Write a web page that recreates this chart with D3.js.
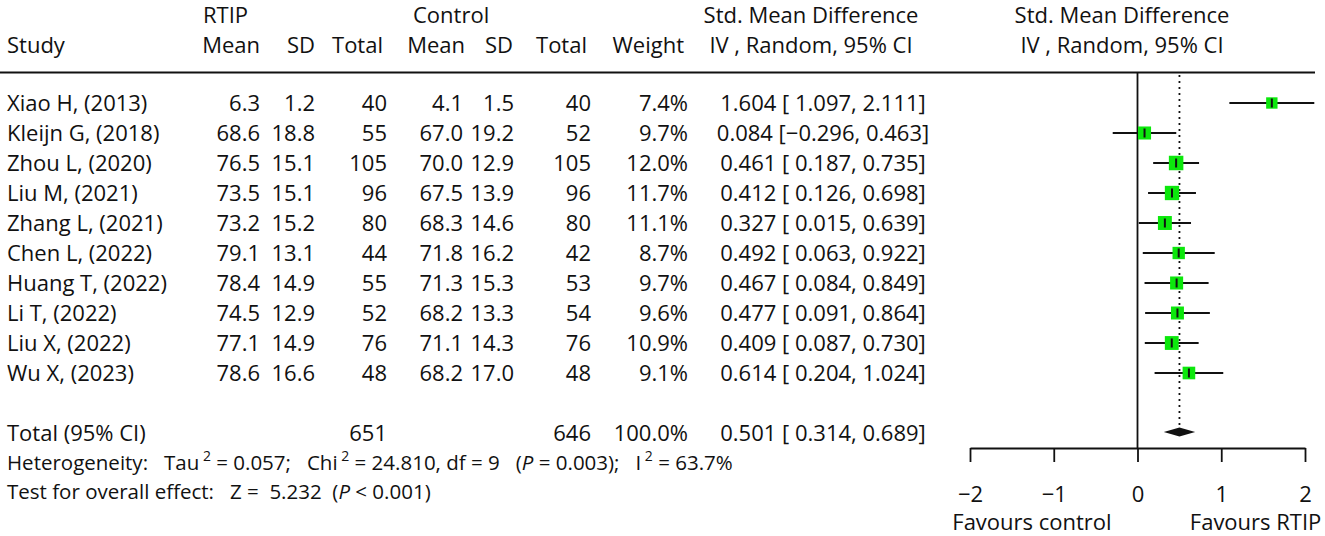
<!DOCTYPE html>
<html>
<head>
<meta charset="utf-8">
<script src="https://cdn.jsdelivr.net/npm/d3@7"></script>
<style>
	html, body { margin: 0; padding: 0; background: #fff; }
	svg text { font-family: "Open Sans", sans-serif; fill: #111; white-space: pre; }
</style>
</head>
<body>
<div id="forest"></div>
<script>

var studies = ["Xiao H, (2013)", "Kleijn G, (2018)", "Zhou L, (2020)", "Liu M, (2021)", "Zhang L, (2021)",
	"Chen L, (2022)", "Huang T, (2022)", "Li T, (2022)", "Liu X, (2022)", "Wu X, (2023)"];
var rtipMean = [6.3, 68.6, 76.5, 73.5, 73.2, 79.1, 78.4, 74.5, 77.1, 78.6];
var rtipSd = [1.2, 18.8, 15.1, 15.1, 15.2, 13.1, 14.9, 12.9, 14.9, 16.6];
var rtipTotal = [40, 55, 105, 96, 80, 44, 55, 52, 76, 48];
var ctrlMean = [4.1, 67.0, 70.0, 67.5, 68.3, 71.8, 71.3, 68.2, 71.1, 68.2];
var ctrlSd = [1.5, 19.2, 12.9, 13.9, 14.6, 16.2, 15.3, 13.3, 14.3, 17.0];
var ctrlTotal = [40, 52, 105, 96, 80, 42, 53, 54, 76, 48];
var weights = [7.4, 9.7, 12.0, 11.7, 11.1, 8.7, 9.7, 9.6, 10.9, 9.1];
var smd = [1.604, 0.084, 0.461, 0.412, 0.327, 0.492, 0.467, 0.477, 0.409, 0.614];
var lower = [1.097, -0.296, 0.187, 0.126, 0.015, 0.063, 0.084, 0.091, 0.087, 0.204];
var upper = [2.111, 0.463, 0.735, 0.698, 0.639, 0.922, 0.849, 0.864, 0.730, 1.024];
var pooled = [0.501, 0.314, 0.689];   // estimate, lower, upper
var groupTotals = [651, 646, 100.0];  // RTIP, control, weight %
var xTicks = [-2, -1, 0, 1, 2];


var width = 1325, height = 536,
	fontSize = 22, noteSize = 20.5, supSize = 14;

var svg = d3.select("#forest")
	.append("svg")
		.attr("width", width)
		.attr("height", height);

var xScale = d3.scaleLinear().domain([-2, 2]).range([970, 1305]);
var yRow = d3.scaleLinear().domain([0, 11]).range([103, 433]);
var boxSize = d3.scaleSqrt().domain([0, 12]).range([0, 14.5]);

var fmt1 = d3.format(".1f"), fmt3 = d3.format(".3f");
var minus = function(s) { return s.replace("-", "\u2212"); };

function ciText(est, lo, hi) {
	return fmt3(est) + " [" + (lo < 0 ? "" : " ") + minus(fmt3(lo)) + ", " + minus(fmt3(hi)) + "]";
}


// column headers
var headers = [
	{text: "Mean", x: 260}, {text: "SD", x: 315}, {text: "Total", x: 383},
	{text: "Mean", x: 465}, {text: "SD", x: 513}, {text: "Total", x: 587}, {text: "Weight", x: 684}
];
var dataCols = [260, 315, 387, 463, 514, 591, 688];

svg.append("text").attr("x", 203).attr("y", 23).attr("font-size", fontSize).text("RTIP");
svg.append("text").attr("x", 413).attr("y", 23).attr("font-size", fontSize).text("Control");
svg.append("text").attr("x", 7).attr("y", 53).attr("font-size", fontSize).text("Study");

svg.append("g")
	.selectAll("text")
	.data(headers)
	.enter().append("text")
		.attr("x", function(d) { return d.x; })
		.attr("y", 53)
		.attr("font-size", fontSize)
		.attr("text-anchor", "end")
		.text(function(d) { return d.text; });

[811, 1122].forEach(function(cx) {
	svg.append("text").attr("x", cx).attr("y", 23).attr("font-size", fontSize)
		.attr("text-anchor", "middle").text("Std. Mean Difference");
	svg.append("text").attr("x", cx).attr("y", 53).attr("font-size", fontSize)
		.attr("text-anchor", "middle").text("IV , Random, 95% CI");
});

svg.append("line")
	.attr("x1", 0).attr("x2", xScale(2) + 10)
	.attr("y1", 72.5).attr("y2", 72.5)
	.attr("stroke", "#111").attr("stroke-width", 1.8);


// study rows
var rows = studies.map(function(s, i) {
	return {
		study: s,
		cells: [fmt1(rtipMean[i]), fmt1(rtipSd[i]), rtipTotal[i], fmt1(ctrlMean[i]), fmt1(ctrlSd[i]), ctrlTotal[i], fmt1(weights[i]) + "%"],
		ci: ciText(smd[i], lower[i], upper[i]),
		i: i
	};
});

var row = svg.append("g")
	.selectAll("g")
	.data(rows)
	.enter().append("g")
		.attr("transform", function(d) { return "translate(0," + (yRow(d.i) + 8) + ")"; })
		.attr("font-size", fontSize);

row.append("text").attr("x", 7).text(function(d) { return d.study; });

row.selectAll("text.cell")
	.data(function(d) { return d.cells; })
	.enter().append("text")
		.attr("class", "cell")
		.attr("x", function(d, j) { return dataCols[j]; })
		.attr("text-anchor", "end")
		.text(function(d) { return d; });

row.append("text")
	.attr("x", 823)
	.attr("text-anchor", "middle")
	.text(function(d) { return d.ci; });


// total row
var totalY = yRow(11) + 8;
svg.append("text").attr("x", 7).attr("y", totalY).attr("font-size", fontSize).text("Total (95% CI)");
svg.append("text").attr("x", dataCols[2]).attr("y", totalY).attr("font-size", fontSize)
	.attr("text-anchor", "end").text(groupTotals[0]);
svg.append("text").attr("x", dataCols[5]).attr("y", totalY).attr("font-size", fontSize)
	.attr("text-anchor", "end").text(groupTotals[1]);
svg.append("text").attr("x", dataCols[6]).attr("y", totalY).attr("font-size", fontSize)
	.attr("text-anchor", "end").text(fmt1(groupTotals[2]) + "%");
svg.append("text").attr("x", 823).attr("y", totalY).attr("font-size", fontSize)
	.attr("text-anchor", "middle").text(ciText(pooled[0], pooled[1], pooled[2]));


// footnotes
var het = svg.append("text").attr("x", 7).attr("y", 470).attr("font-size", noteSize);
het.append("tspan").text("Heterogeneity:   Tau");
het.append("tspan").attr("dy", -9).attr("font-size", supSize).text(" 2");
het.append("tspan").attr("dy", 9).text(" = 0.057;   Chi");
het.append("tspan").attr("dy", -9).attr("font-size", supSize).text(" 2");
het.append("tspan").attr("dy", 9).text(" = 24.810, df = 9   (");
het.append("tspan").attr("font-style", "italic").text("P");
het.append("tspan").text(" = 0.003);   I");
het.append("tspan").attr("dy", -9).attr("font-size", supSize).text(" 2");
het.append("tspan").attr("dy", 9).text(" = 63.7%");

var test = svg.append("text").attr("x", 7).attr("y", 499).attr("font-size", noteSize);
test.append("tspan").text("Test for overall effect:   Z =  5.232  (");
test.append("tspan").attr("font-style", "italic").text("P");
test.append("tspan").text(" < 0.001)");


// plot panel
var axisY = 448;

svg.append("line")
	.attr("x1", xScale(0)).attr("x2", xScale(0))
	.attr("y1", 72.5).attr("y2", axisY)
	.attr("stroke", "#111").attr("stroke-width", 1.8);

svg.append("line")
	.attr("x1", xScale(pooled[0])).attr("x2", xScale(pooled[0]))
	.attr("y1", 75).attr("y2", yRow(11) - 5)
	.attr("stroke", "#111").attr("stroke-width", 1.8)
	.attr("stroke-dasharray", "2,4");

var marks = svg.append("g")
	.selectAll("g")
	.data(rows)
	.enter().append("g")
		.attr("transform", function(d) { return "translate(0," + yRow(d.i) + ")"; });

marks.append("line")
	.attr("x1", function(d) { return xScale(lower[d.i]); })
	.attr("x2", function(d) { return xScale(upper[d.i]); })
	.attr("stroke", "#111").attr("stroke-width", 1.8);

marks.append("rect")
	.attr("x", function(d) { return xScale(smd[d.i]) - boxSize(weights[d.i]) / 2; })
	.attr("y", function(d) { return -boxSize(weights[d.i]) / 2; })
	.attr("width", function(d) { return boxSize(weights[d.i]); })
	.attr("height", function(d) { return boxSize(weights[d.i]); })
	.attr("fill", "#0ce80c");

marks.append("line")
	.attr("x1", function(d) { return xScale(smd[d.i]); })
	.attr("x2", function(d) { return xScale(smd[d.i]); })
	.attr("y1", -4.5).attr("y2", 4.5)
	.attr("stroke", "#111").attr("stroke-width", 2);

svg.append("path")
	.attr("d", function() {
		var y = yRow(11) - 1, h = 4.5;
		return "M" + xScale(pooled[1]) + "," + y +
			"L" + xScale(pooled[0]) + "," + (y - h) +
			"L" + xScale(pooled[2]) + "," + y +
			"L" + xScale(pooled[0]) + "," + (y + h) + "Z";
	})
	.attr("fill", "#111");

var xAxis = d3.axisBottom(xScale)
	.tickValues(xTicks)
	.tickSize(14)
	.tickSizeOuter(0)
	.tickPadding(24)
	.tickFormat(d3.format("d"));

var axis = svg.append("g")
	.attr("transform", "translate(0," + axisY + ")")
	.call(xAxis);

axis.selectAll("path, line").attr("stroke", "#111").attr("stroke-width", 1.8);
axis.selectAll("text")
	.attr("font-size", fontSize)
	.attr("font-family", "Open Sans, sans-serif")
	.attr("fill", "#111");

svg.append("text").attr("x", xScale(-1.26)).attr("y", 530).attr("font-size", fontSize)
	.attr("text-anchor", "middle").text("Favours control");
svg.append("text").attr("x", xScale(1.41)).attr("y", 530).attr("font-size", fontSize)
	.attr("text-anchor", "middle").text("Favours RTIP");

</script>
</body>
</html>
